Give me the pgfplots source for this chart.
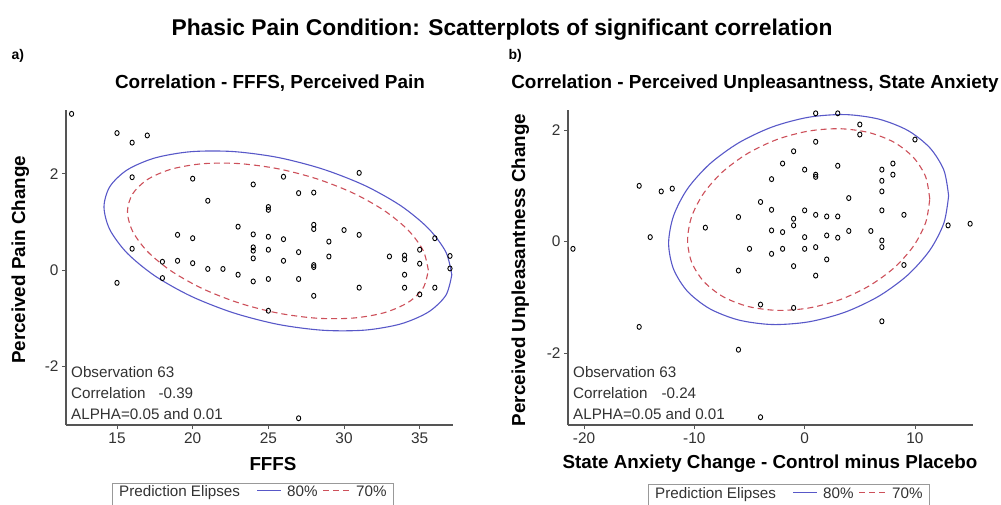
\documentclass[border=0pt]{standalone}
\usepackage{pgfplots}
\pgfplotsset{compat=1.18}
\usepackage{fontspec}
\setmainfont{Liberation Sans}
\definecolor{ellblue}{RGB}{88,88,200}
\definecolor{ellred}{RGB}{205,80,90}
\definecolor{axgray}{RGB}{85,85,85}
\definecolor{txt}{RGB}{50,50,50}

\pgfplotstableread{
x y
12 3.25
15 2.85
16 2.65
17 2.80
16 1.93
20 1.90
21 1.44
23 0.90
19 0.73
20 0.66
16 0.44
18 0.17
19 0.19
20 0.14
21 0.02
22 0.02
23 -0.10
15 -0.27
18 -0.17
24 1.78
25 1.31
25 1.25
24 0.74
25 0.69
24 0.47
24 0.40
25 0.42
24 0.24
24 -0.24
25 -0.19
25 -0.85
26 1.94
31 2.02
27 1.60
28 1.61
28 0.94
28 0.85
30 0.83
31 0.73
26 0.64
29 0.59
27 0.37
26 0.19
29 0.28
28 0.10
28 0.06
27 -0.19
28 -0.54
31 -0.37
33 0.28
34 0.30
34 0.22
34 -0.10
34 -0.37
35 0.42
35 0.13
35 -0.51
36 0.66
36 -0.37
37 0.29
37 0.03
27 -3.09
}\leftdata

\pgfplotstableread{
x y
-15 1.00
-13 0.90
-12 0.95
-14 0.08
-9 0.25
-6 0.44
-2 1.40
-3 1.12
-4 0.71
-3 0.57
-3 0.20
-2 0.17
-5 -0.13
-3 -0.22
-2 -0.13
-6 -0.52
-4 -1.13
-15 -1.53
-6 -1.94
-21 -0.13
-4 -3.15
-1 -1.19
7 -1.43
1 2.30
3 2.30
5 2.10
5 1.92
10 1.83
1 1.79
-1 1.62
0 1.29
1 1.20
1 1.16
3 1.36
7 1.29
8 1.40
8 1.20
7 1.09
7 0.90
4 0.78
0 0.56
1 0.48
2 0.45
3 0.45
7 0.56
9 0.48
-1 0.41
-1 0.29
0 0.08
2 0.11
3 0.07
4 0.19
6 0.19
7 0.02
7 -0.10
0 -0.13
1 -0.10
2 -0.32
-1 -0.44
1 -0.61
9 -0.42
13 0.29
15 0.32
}\rightdata

\pgfplotsset{
  panel/.style={
    scale only axis,
    axis lines=left,
    axis line style={-, draw=axgray, line width=1.3pt},
    tick style={draw=axgray, line width=0.8pt},
    tick align=outside,
    major tick length=4pt,
    tick label style={font=\fontsize{15.4}{18}\selectfont, text=txt},
    /pgf/number format/assume math mode=true,
    clip=false,
  },
  dots/.style={only marks, mark=o, mark size=2.5pt, black,
    mark options={draw=black, line width=0.9pt, xscale=0.85}},
  e80/.style={draw=ellblue, line width=1.1pt, smooth, no marks},
  e70/.style={draw=ellred, line width=1.1pt, smooth, no marks, dash pattern=on 6pt off 4pt},
}

\begin{document}
\begin{tikzpicture}[x=1pt,y=1pt]
\useasboundingbox (0,0) rectangle (1001,504);

\begin{axis}[panel,
  at={(66pt,79pt)}, anchor=south west,
  width=387pt, height=315pt,
  xmin=11.63, xmax=37.2, ymin=-3.23, ymax=3.33,
  xtick={15,20,25,30,35}, ytick={-2,0,2},
]
\addplot[e80] coordinates {
(37.12,-0.102) (36.73,0.372) (35.58,0.862) (33.76,1.334) (31.38,1.756) (28.60,2.099)
(25.63,2.342) (22.66,2.465) (19.89,2.462) (17.51,2.332) (15.68,2.084) (14.53,1.736)
(14.14,1.310) (14.53,0.836) (15.68,0.346) (17.51,-0.126) (19.89,-0.548) (22.66,-0.891)
(25.63,-1.134) (28.60,-1.257) (31.38,-1.254) (33.76,-1.124) (35.58,-0.876) (36.73,-0.528)
(37.12,-0.102)};
\addplot[e70] coordinates {
(35.57,-0.007) (35.23,0.403) (34.24,0.827) (32.66,1.235) (30.60,1.600) (28.20,1.897)
(25.63,2.107) (23.06,2.214) (20.66,2.211) (18.60,2.099) (17.02,1.884) (16.03,1.583)
(15.69,1.215) (16.03,0.805) (17.02,0.381) (18.60,-0.027) (20.66,-0.392) (23.06,-0.689)
(25.63,-0.899) (28.20,-1.006) (30.60,-1.003) (32.66,-0.891) (34.24,-0.676) (35.23,-0.375)
(35.57,-0.007)};
\addplot[dots] table[x=x,y=y] {\leftdata};
\end{axis}

\begin{axis}[panel,
  at={(568pt,79pt)}, anchor=south west,
  width=405pt, height=315pt,
  xmin=-21.45, xmax=15.26, ymin=-3.29, ymax=2.36,
  xtick={-20,-10,0,10}, ytick={-2,0,2},
]
\addplot[e80] coordinates {
(13.05,0.821) (12.62,1.281) (11.35,1.681) (9.34,1.994) (6.71,2.197) (3.65,2.278)
(0.36,2.230) (-2.92,2.057) (-5.98,1.771) (-8.61,1.391) (-10.63,0.944) (-11.89,0.458)
(-12.33,-0.031) (-11.89,-0.491) (-10.63,-0.891) (-8.61,-1.204) (-5.98,-1.407) (-2.92,-1.488)
(0.36,-1.440) (3.65,-1.267) (6.71,-0.981) (9.34,-0.601) (11.35,-0.154) (12.62,0.332)
(13.05,0.821)};
\addplot[e70] coordinates {
(11.34,0.763) (10.97,1.161) (9.87,1.507) (8.13,1.778) (5.85,1.954) (3.20,2.024)
(0.36,1.982) (-2.48,1.833) (-5.13,1.585) (-7.40,1.257) (-9.14,0.870) (-10.24,0.449)
(-10.61,0.027) (-10.24,-0.371) (-9.14,-0.717) (-7.40,-0.988) (-5.13,-1.164) (-2.48,-1.234)
(0.36,-1.192) (3.20,-1.043) (5.85,-0.795) (8.13,-0.467) (9.87,-0.080) (10.97,0.341)
(11.34,0.763)};
\addplot[dots] table[x=x,y=y] {\rightdata};
\end{axis}

% titles
\node[anchor=base, font=\bfseries\fontsize{22.8}{27}\selectfont] at (502,468) {Phasic Pain Condition: Scatterplots of significant correlation};
\node[anchor=base west, font=\bfseries\fontsize{14}{16}\selectfont] at (8,444) {a)};
\node[anchor=base west, font=\bfseries\fontsize{14}{16}\selectfont] at (505,444) {b)};
\node[anchor=base, font=\bfseries\fontsize{18.9}{22}\selectfont] at (270,415) {Correlation - FFFS, Perceived Pain};
\node[anchor=base, font=\bfseries\fontsize{18.9}{22}\selectfont] at (755,415) {Correlation - Perceived Unpleasantness, State Anxiety};
% axis labels
\node[anchor=base, font=\bfseries\fontsize{18.8}{22}\selectfont] at (273,34) {FFFS};
\node[anchor=base, font=\bfseries\fontsize{18.8}{22}\selectfont] at (770,36) {State Anxiety Change - Control minus Placebo};
\node[anchor=base, rotate=90, font=\bfseries\fontsize{18.8}{22}\selectfont] at (25,244) {Perceived Pain Change};
\node[anchor=base, rotate=90, font=\bfseries\fontsize{18.8}{22}\selectfont] at (525,234) {Perceived Unpleasantness Change};
% statistics
\begin{scope}[every node/.style={anchor=base west, text=txt, font=\fontsize{15.2}{18}\selectfont, inner sep=0pt}]
\node at (71,127) {Observation 63};
\node at (71,106) {Correlation\hspace{13pt}-0.39};
\node at (71,85) {ALPHA=0.05 and 0.01};
\node at (573,127) {Observation 63};
\node at (573,106) {Correlation\hspace{14pt}-0.24};
\node at (573,85) {ALPHA=0.05 and 0.01};
% legends
\node at (119,8) {Prediction Elipses};
\node at (287,8) {80\%};
\node at (356,8) {70\%};
\node at (655,6) {Prediction Elipses};
\node at (823,6) {80\%};
\node at (892,6) {70\%};
\end{scope}
\draw[gray!80, line width=0.8pt] (112,-12) rectangle (393,21);
\draw[gray!80, line width=0.8pt] (648,-12) rectangle (929,20);
\draw[ellblue, line width=1.1pt] (257,13.5) -- (281,13.5);
\draw[ellred, line width=1.1pt, dash pattern=on 6pt off 4pt] (323,13.5) -- (350,13.5);
\draw[ellblue, line width=1.1pt] (793,11.5) -- (817,11.5);
\draw[ellred, line width=1.1pt, dash pattern=on 6pt off 4pt] (859,11.5) -- (886,11.5);
\end{tikzpicture}
\end{document}
